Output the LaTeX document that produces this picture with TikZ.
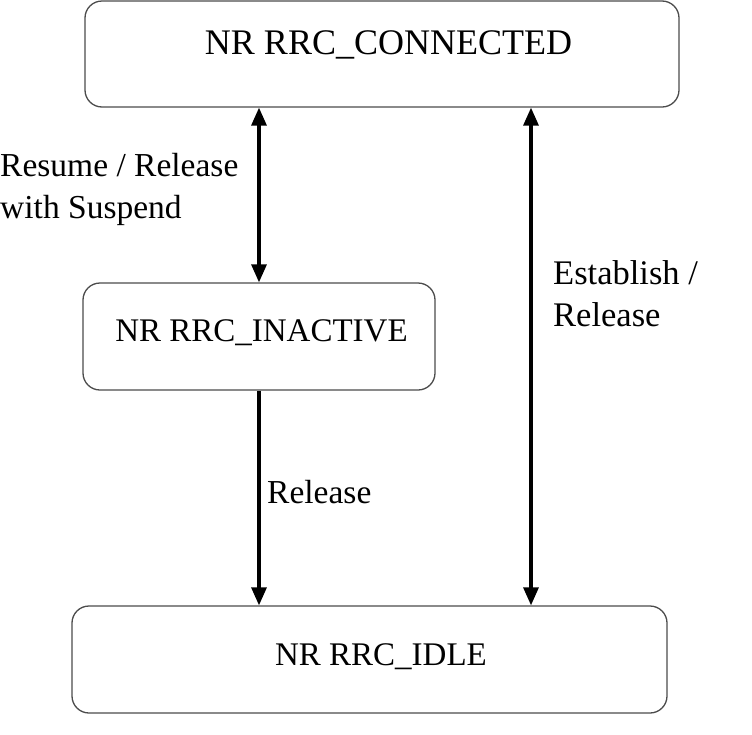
\documentclass[tikz,border=0pt]{standalone}
\usepackage{fontspec}
\setmainfont{Liberation Serif}
\usetikzlibrary{arrows.meta}
\begin{document}
\begin{tikzpicture}[x=1pt,y=-1pt,
  statebox/.style={draw=black!70, line width=1.3pt, rounded corners=17pt, inner sep=0pt},
  statetxt/.style={inner sep=0pt, font=\fontsize{33}{42}\selectfont},
  lbl/.style={inner sep=0pt, align=left, anchor=west, font=\fontsize{33.5}{42}\selectfont},
  arr/.style={line width=3.2pt, black, {Triangle[width=15pt,length=18pt]}-{Triangle[width=15pt,length=18pt]}},
  arrone/.style={line width=3.2pt, black, -{Triangle[width=15pt,length=18pt]}}]
\useasboundingbox (0,0) rectangle (752,734);
\node[statebox, minimum width=594pt, minimum height=106pt] (conn) at (382,54) {};
\node[statebox, minimum width=352pt, minimum height=107pt] (inac) at (259,336.5) {};
\node[statebox, minimum width=595pt, minimum height=107pt] (idle) at (369.5,659.5) {};
\node[statetxt, font=\fontsize{36}{42}\selectfont] (conntxt) at (388.5,45) {NR RRC\_CONNECTED};
\node[statetxt] (inactxt) at (261.5,333) {NR RRC\_INACTIVE};
\node[statetxt] (idletxt) at (381,657) {NR RRC\_IDLE};
\coordinate (rx) at (531,0);
\draw[arr] (inac.north |- conn.south) -- (inac.north);
\draw[arrone] (inac.south) -- (inac.south |- idle.north);
\draw[arr] (rx |- conn.south) -- (rx |- idle.north);
\node[lbl] (l1) at (0,189) {Resume / Release\\with Suspend};
\node[lbl] (l2) at (267,492) {Release};
\node[lbl, font=\fontsize{34.5}{42}\selectfont] (l3) at (553,294) {Establish /\\Release};
\end{tikzpicture}
\end{document}
